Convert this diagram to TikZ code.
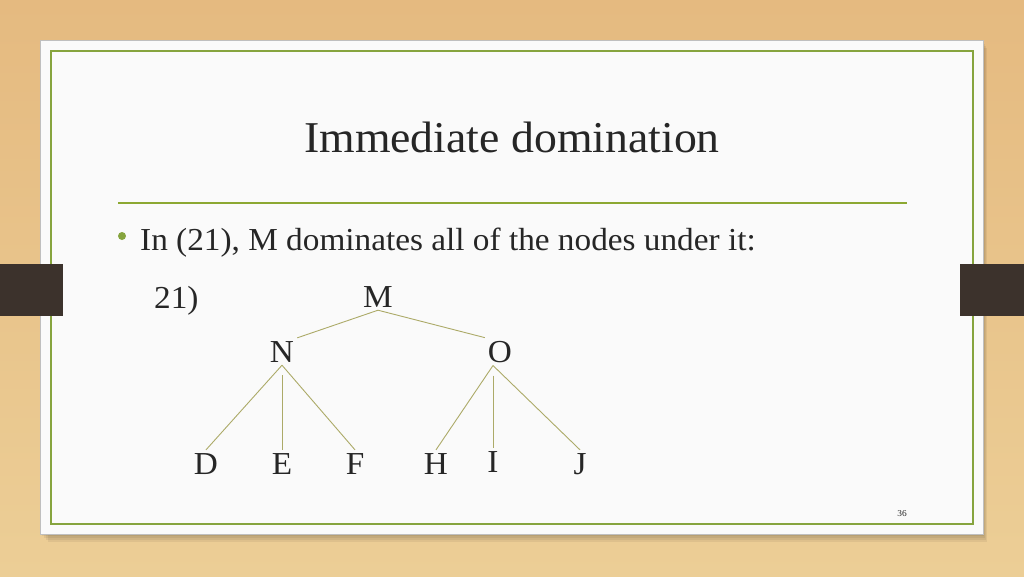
\documentclass[tikz,border=0pt]{standalone}
\usepackage{fontspec}
\setmainfont{Liberation Serif}[FakeStretch=1.04]
\usetikzlibrary{positioning}
\definecolor{woodtop}{RGB}{229,186,128}
\definecolor{woodbot}{RGB}{236,206,150}
\definecolor{paper}{RGB}{250,250,250}
\definecolor{framegreen}{RGB}{134,164,62}
\definecolor{rulegreen}{RGB}{140,168,50}
\definecolor{tabbrown}{RGB}{60,50,44}
\definecolor{branch}{RGB}{172,170,104}
\definecolor{inktext}{RGB}{38,38,38}
\tikzstyle{word} = [text=inktext, inner sep=1pt, anchor=base, font=\fontsize{32}{36}\selectfont]
\tikzstyle{leaf} = [word, inner sep=3pt]
\tikzstyle{branchline} = [draw=branch, line width=0.9pt]

\begin{document}
\begin{tikzpicture}[x=1pt, y=-1pt]
\useasboundingbox (0,0) rectangle (1024,576);
% wood background and slide
\shade [top color=woodtop, bottom color=woodbot] (0,0) rectangle (1024,576);
\foreach \s in {2,4,6,8}
  \fill [black, opacity=0.06] (40+\s,40+\s) rectangle (983+\s/2,534+\s);
\fill [paper, draw=black!25, line width=0.8pt] (40,40) rectangle (983,534);
\draw [framegreen, line width=1.6pt] (51,51) rectangle (973,524);
\fill [tabbrown] (0,264) rectangle (63,316);
\fill [tabbrown] (960,264) rectangle (1024,316);

% title and rule
\node (title) [text=inktext, font=\fontsize{44}{48}\selectfont, anchor=base] at (512,152) {Immediate domination};
\coordinate (ruleL) at (118,203);
\coordinate (ruleR) at (907,203);
\draw [draw=rulegreen, line width=1.4pt] (ruleL) -- (ruleR);

% bullet line
\fill [framegreen] (122,236) circle (4);
\node (intro) [word, anchor=base west] at (139,250) {In (21), M dominates all of the nodes under it:};
\node (ex) [word, anchor=base west] at (153,308) {21)};

% tree
\node (M) [leaf] at (378,307) {M};
\node (N) [leaf] at (282,362) {N};
\node (O) [leaf] at (500,362) {O};
\node (D) [leaf] at (206,474) {D};
\node (E) [leaf] at (282,474) {E};
\node (F) [leaf] at (355,474) {F};
\node (H) [leaf] at (436,474) {H};
\node (I) [leaf] at (493,472) {I};
\node (J) [leaf] at (580,474) {J};

\draw [branchline] (M.south) -- (N.north east);
\draw [branchline] (M.south) -- (O.north west);
\draw [branchline] (N.south) -- (D.north);
\draw [branchline] ([yshift=-10pt]N.south) -- (E.north);
\draw [branchline] (N.south) -- (F.north);
\draw [branchline] ([xshift=-7pt]O.south) -- (H.north);
\draw [branchline] ([xshift=-7pt,yshift=-10pt]O.south) -- (I.north);
\draw [branchline] ([xshift=-7pt]O.south) -- (J.north);

% page number
\node (page) [text=inktext, font=\fontsize{9}{10}\selectfont, anchor=base] at (902,516) {36};
\end{tikzpicture}
\end{document}
